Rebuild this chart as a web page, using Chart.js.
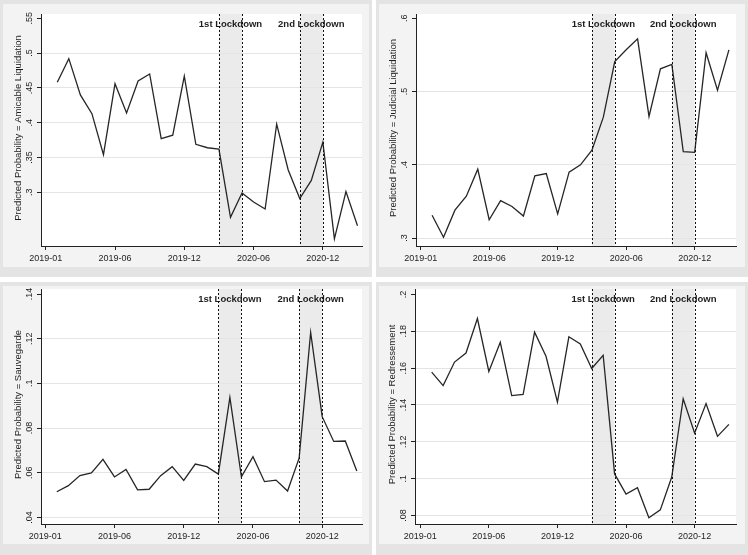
<!DOCTYPE html>
<html>
<head>
<meta charset="utf-8">
<script src="https://cdn.jsdelivr.net/npm/chart.js@4.4.1/dist/chart.umd.min.js"></script>
<style>
  html, body { margin: 0; padding: 0; background: #fff; }
  body { width: 748px; height: 555px; position: relative; overflow: hidden; }
  .frame { position: absolute; background: #e4e4e4; }
  .inner { position: absolute; background: #f3f3f3; }
  canvas { position: absolute; }
</style>
</head>
<body>
<script>
// months of the series (first point = 2019-01)
const months = [
  '2019-01', '2019-02', '2019-03', '2019-04', '2019-05', '2019-06', '2019-07', '2019-08', '2019-09',
  '2019-10', '2019-11', '2019-12', '2020-01', '2020-02', '2020-03', '2020-04', '2020-05', '2020-06',
  '2020-07', '2020-08', '2020-09', '2020-10', '2020-11', '2020-12', '2021-01', '2021-02', '2021-03'
];

const amicable = [0.458, 0.492, 0.440, 0.413, 0.354, 0.456, 0.414, 0.460, 0.470, 0.377, 0.382, 0.467, 0.369, 0.364,
  0.362, 0.264, 0.299, 0.286, 0.276, 0.398, 0.332, 0.291, 0.317, 0.372, 0.233, 0.301, 0.252];
const judicial = [0.331, 0.301, 0.338, 0.357, 0.394, 0.325, 0.351, 0.343, 0.330, 0.385, 0.388, 0.333, 0.390, 0.400,
  0.420, 0.465, 0.541, 0.557, 0.572, 0.466, 0.531, 0.537, 0.418, 0.417, 0.553, 0.502, 0.557];
const sauvegarde = [0.0515, 0.0542, 0.0587, 0.0599, 0.0660, 0.0581, 0.0615, 0.0523, 0.0526, 0.0587, 0.0627, 0.0566,
  0.0639, 0.0627, 0.0594, 0.0937, 0.0582, 0.0672, 0.0560, 0.0567, 0.0518, 0.0665, 0.1228, 0.0851, 0.0740, 0.0742, 0.0608];
const redressement = [0.1578, 0.1505, 0.1633, 0.1682, 0.1869, 0.1582, 0.1740, 0.1451, 0.1458, 0.1795, 0.1664, 0.1415,
  0.1770, 0.1731, 0.1598, 0.1670, 0.1026, 0.0917, 0.0951, 0.0788, 0.0831, 0.1009, 0.1434, 0.1247, 0.1408, 0.1230, 0.1295];

// x ticks (the first one sits on 2018-12 but is labelled 2019-01, as in the original)
const xTickMonths = ['2018-12', '2019-06', '2019-12', '2020-06', '2020-12'];
const xTickLabels = ['2019-01', '2019-06', '2019-12', '2020-06', '2020-12'];

const amicableTicks = [0.3, 0.35, 0.4, 0.45, 0.5, 0.55];
const amicableTickLabels = ['.3', '.35', '.4', '.45', '.5', '.55'];
const judicialTicks = [0.3, 0.4, 0.5, 0.6];
const judicialTickLabels = ['.3', '.4', '.5', '.6'];
const sauvegardeTicks = [0.04, 0.06, 0.08, 0.1, 0.12, 0.14];
const sauvegardeTickLabels = ['.04', '.06', '.08', '.1', '.12', '.14'];
const redressementTicks = [0.08, 0.1, 0.12, 0.14, 0.16, 0.18, 0.2];
const redressementTickLabels = ['.08', '.1', '.12', '.14', '.16', '.18', '.2'];

const lockdownNames = ['1st Lockdown', '2nd Lockdown'];
const lockdownFrom = ['2020-03', '2020-10'];
const lockdownTo = ['2020-05', '2020-12'];

// month string -> number of months since 2018-12
function monthNumber(m) {
  const [yy, mm] = m.split('-').map(Number);
  return (yy - 2018) * 12 + mm - 12;
}

const FONT = '"Liberation Sans", Arial, sans-serif';
const TEXT = '#1e1e1e';
Chart.defaults.font.family = FONT;

const panels = [
  { title: 'Predicted Probability = Amicable Liquidation', values: amicable, ticks: amicableTicks, tickLabels: amicableTickLabels,
    frame: [0, 0, 372, 277], inner: [3, 4, 366, 263], plot: [41, 14, 362, 246], xr: [-0.41, 27.39], yr: [0.2228, 0.5562] },
  { title: 'Predicted Probability = Judicial Liquidation', values: judicial, ticks: judicialTicks, tickLabels: judicialTickLabels,
    frame: [376, 0, 372, 277], inner: [379, 4, 366, 263], plot: [416, 14, 736, 246], xr: [-0.41, 27.62], yr: [0.2891, 0.6059] },
  { title: 'Predicted Probability = Sauvegarde', values: sauvegarde, ticks: sauvegardeTicks, tickLabels: sauvegardeTickLabels,
    frame: [0, 282, 372, 273], inner: [3, 286, 366, 258], plot: [41, 289, 362, 524], xr: [-0.37, 27.45], yr: [0.03705, 0.14224] },
  { title: 'Predicted Probability = Redressement', values: redressement, ticks: redressementTicks, tickLabels: redressementTickLabels,
    frame: [376, 282, 372, 273], inner: [379, 286, 366, 258], plot: [415, 289, 736, 524], xr: [-0.46, 27.62], yr: [0.07543, 0.20294] }
];

// white plot region, lockdown shading, dashed lines, rotated y labels
const stataPlugin = {
  id: 'stata',
  beforeDraw(chart) {
    const { ctx, chartArea: a, scales: { x } } = chart;
    ctx.save();
    ctx.fillStyle = '#fff';
    ctx.fillRect(a.left, a.top, a.width, a.height);
    ctx.fillStyle = '#ebebeb';
    lockdownFrom.forEach((m, i) => {
      const x0 = x.getPixelForValue(monthNumber(m));
      const x1 = x.getPixelForValue(monthNumber(lockdownTo[i]));
      ctx.fillRect(x0, a.top, x1 - x0, a.height);
    });
    ctx.restore();
  },
  afterDatasetsDraw(chart) {
    const { ctx, chartArea: a, scales: { x } } = chart;
    ctx.save();
    ctx.fillStyle = TEXT;
    ctx.font = 'bold 9.5px ' + FONT;
    ctx.textAlign = 'center';
    ctx.textBaseline = 'middle';
    lockdownFrom.forEach((m, i) => {
      const x0 = x.getPixelForValue(monthNumber(m));
      const x1 = x.getPixelForValue(monthNumber(lockdownTo[i]));
      ctx.fillText(lockdownNames[i], (x0 + x1) / 2, a.top + 10.5);
    });
    ctx.strokeStyle = '#111';
    ctx.lineWidth = 1;
    ctx.setLineDash([2, 2]);
    lockdownFrom.forEach((m, i) => {
      [m, lockdownTo[i]].forEach(d => {
        const px = Math.round(x.getPixelForValue(monthNumber(d))) + 0.5;
        ctx.beginPath();
        ctx.moveTo(px, a.top);
        ctx.lineTo(px, a.bottom);
        ctx.stroke();
      });
    });
    ctx.restore();
  },
  afterDraw(chart) {
    const { ctx, chartArea: a, scales: { y } } = chart;
    const p = chart.options.plugins.stata;
    ctx.save();
    ctx.fillStyle = TEXT;
    ctx.textAlign = 'center';
    ctx.textBaseline = 'middle';
    ctx.font = '9px ' + FONT;
    y.ticks.forEach((t, i) => {
      ctx.save();
      ctx.translate(a.left - 11, y.getPixelForValue(t.value));
      ctx.rotate(-Math.PI / 2);
      ctx.fillText(p.tickLabels[i], 0, 0);
      ctx.restore();
    });
    ctx.font = '9.5px ' + FONT;
    ctx.translate(a.left - 22.5, (a.top + a.bottom) / 2 - 2);
    ctx.rotate(-Math.PI / 2);
    ctx.fillText(p.title, 0, 0);
    ctx.restore();
  }
};

panels.forEach(pn => {
  const [fx, fy, fw, fh] = pn.frame;
  const [ix, iy, iw, ih] = pn.inner;
  const [pl, pt, pr, pb] = pn.plot;

  const frame = document.createElement('div');
  frame.className = 'frame';
  Object.assign(frame.style, { left: fx + 'px', top: fy + 'px', width: fw + 'px', height: fh + 'px' });
  document.body.appendChild(frame);
  const inner = document.createElement('div');
  inner.className = 'inner';
  Object.assign(inner.style, { left: ix + 'px', top: iy + 'px', width: iw + 'px', height: ih + 'px' });
  document.body.appendChild(inner);

  const canvas = document.createElement('canvas');
  canvas.width = fw;
  canvas.height = fh;
  Object.assign(canvas.style, { left: fx + 'px', top: fy + 'px', width: fw + 'px', height: fh + 'px' });
  document.body.appendChild(canvas);

  const lastTick = pn.ticks.length - 1;

  new Chart(canvas, {
    type: 'line',
    data: {
      datasets: [{
        data: months.map((m, i) => ({ x: monthNumber(m), y: pn.values[i] })),
        borderColor: '#262626',
        borderWidth: 1.3,
        pointRadius: 0,
        tension: 0,
        fill: false
      }]
    },
    options: {
      responsive: false,
      animation: false,
      devicePixelRatio: 1,
      layout: { padding: { top: pt - fy, right: fx + fw - pr, left: 0, bottom: 0 } },
      plugins: {
        legend: { display: false },
        tooltip: { enabled: false },
        stata: { title: pn.title, tickLabels: pn.tickLabels }
      },
      scales: {
        x: {
          type: 'linear',
          bounds: 'data',
          min: pn.xr[0],
          max: pn.xr[1],
          afterBuildTicks: s => { s.ticks = xTickMonths.map(m => ({ value: monthNumber(m) })); },
          afterFit: s => { s.height = fy + fh - pb; },
          ticks: {
            autoSkip: false,
            maxRotation: 0,
            minRotation: 0,
            padding: 3,
            color: TEXT,
            font: { size: 9 },
            callback: (v, i) => xTickLabels[i]
          },
          grid: { drawOnChartArea: false, drawTicks: true, tickLength: 4, tickColor: '#222', lineWidth: 1 },
          border: { display: true, color: '#222', width: 1 }
        },
        y: {
          type: 'linear',
          bounds: 'data',
          min: pn.yr[0],
          max: pn.yr[1],
          afterBuildTicks: s => { s.ticks = pn.ticks.map(v => ({ value: v })); },
          afterFit: s => { s.width = pl - fx; },
          ticks: { display: false },
          grid: {
            color: c => (c.index === lastTick ? 'rgba(0,0,0,0)' : '#e4e4e4'),
            lineWidth: 1,
            drawTicks: true,
            tickLength: 4,
            tickColor: '#222'
          },
          border: { display: true, color: '#222', width: 1 }
        }
      }
    },
    plugins: [stataPlugin]
  });
});
</script>
</body>
</html>
